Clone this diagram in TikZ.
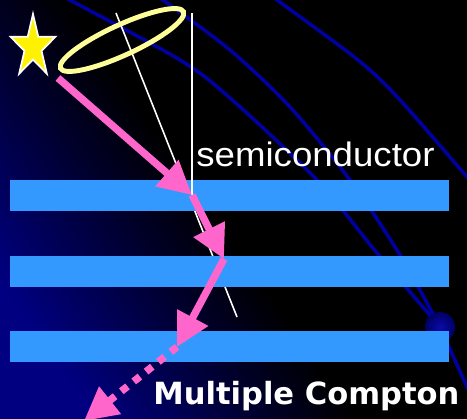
\documentclass[tikz,border=0pt]{standalone}
\usepackage{fontspec}
\setmainfont{Liberation Sans}
\newfontfamily\headfont{DejaVu Sans}
\usetikzlibrary{arrows.meta,shapes.geometric}

\definecolor{slideblue}{RGB}{0,0,128}
\definecolor{dimblue}{RGB}{0,0,40}
\definecolor{orbit}{RGB}{0,0,160}
\definecolor{layer}{RGB}{51,153,255}
\definecolor{gamma}{RGB}{255,102,204}
\definecolor{cone}{RGB}{255,255,153}

\pgfdeclarehorizontalshading{slidebg}{100bp}{color(0bp)=(slideblue); color(24bp)=(slideblue); color(40bp)=(dimblue); color(48bp)=(black); color(100bp)=(black)}

\begin{document}
\begin{tikzpicture}[x=0.02cm,y=-0.02cm,
  ray/.style={gamma,line width=4.2pt,-{Triangle[length=19pt,width=19pt]}},
  orbitline/.style={orbit,line width=2pt}]

% background
\shade[shading=slidebg,shading angle=35] (0,0) rectangle (467,419);
\useasboundingbox (0,0) rectangle (467,419);
\clip (0,0) rectangle (467,419);

% orbits
\draw[orbitline] plot[smooth] coordinates {(263,-10) (277,0) (358,60) (400,100) (467,177) (480,193)};
\draw[orbitline] plot[smooth] coordinates {(150,-10) (163,0) (230,50) (290,107) (350,180) (400,255) (440,327)};
\draw[orbitline] plot[smooth] coordinates {(52,-10) (70,0) (180,60) (230,98) (317,180) (377,253) (440,327)};
\draw[orbitline] (440,327) -- (472,398);

% planet
\coordinate (planet) at (440,327);
\shade[inner color={rgb,255:red,10;green,10;blue,170},outer color={rgb,255:red,0;green,0;blue,100}] (planet) circle (15);

% cone axis
\coordinate (axtop) at (116,13);
\coordinate (axend) at (237,317);
\draw[white,line width=0.9pt] (axtop) -- (axend);

% semiconductor layers
\fill[layer] (10,180) rectangle (449,211);
\fill[layer] (10,256) rectangle (449,287);
\fill[layer] (10,331) rectangle (449,362);

% scattering points
\coordinate (src) at (58,78);
\coordinate (c1) at (192,195);
\coordinate (c2) at (224,259);
\coordinate (c3) at (177,347);
\coordinate (esc) at (84,421);

% vertical line
\coordinate (vtop) at (192,13);
\draw[white,line width=0.9pt] (vtop) -- (c1);

% Compton cone
\coordinate (ring) at (122,40);
\draw[cone,line width=2.8pt,rotate around={24.7:(ring)}] (ring) ellipse [x radius=67.7, y radius=15.1];

% star
\node[star,star points=5,star point ratio=2.618,fill=yellow,draw=white,line width=1pt,
  minimum size=0.94cm,inner sep=0pt,yscale=1.4,transform shape] (s) at (33,47) {};

% gamma ray path
\draw[ray] (src) -- (c1);
\draw[ray] (c1) -- (c2);
\draw[ray] (c2) -- (c3);
\draw[ray,dash pattern=on 4.5pt off 4.5pt] (c3) -- (esc);

% labels
\node[anchor=base west,inner sep=0pt,text=white,font=\fontsize{19.3}{23}\selectfont,
  xscale=1.08,transform shape] (semi) at (196,166) {semiconductor};
\node[anchor=base west,inner sep=0pt,text=white,font=\headfont\bfseries\fontsize{17.4}{21}\selectfont] (mc) at (153,404) {Multiple Compton};

\end{tikzpicture}
\end{document}
